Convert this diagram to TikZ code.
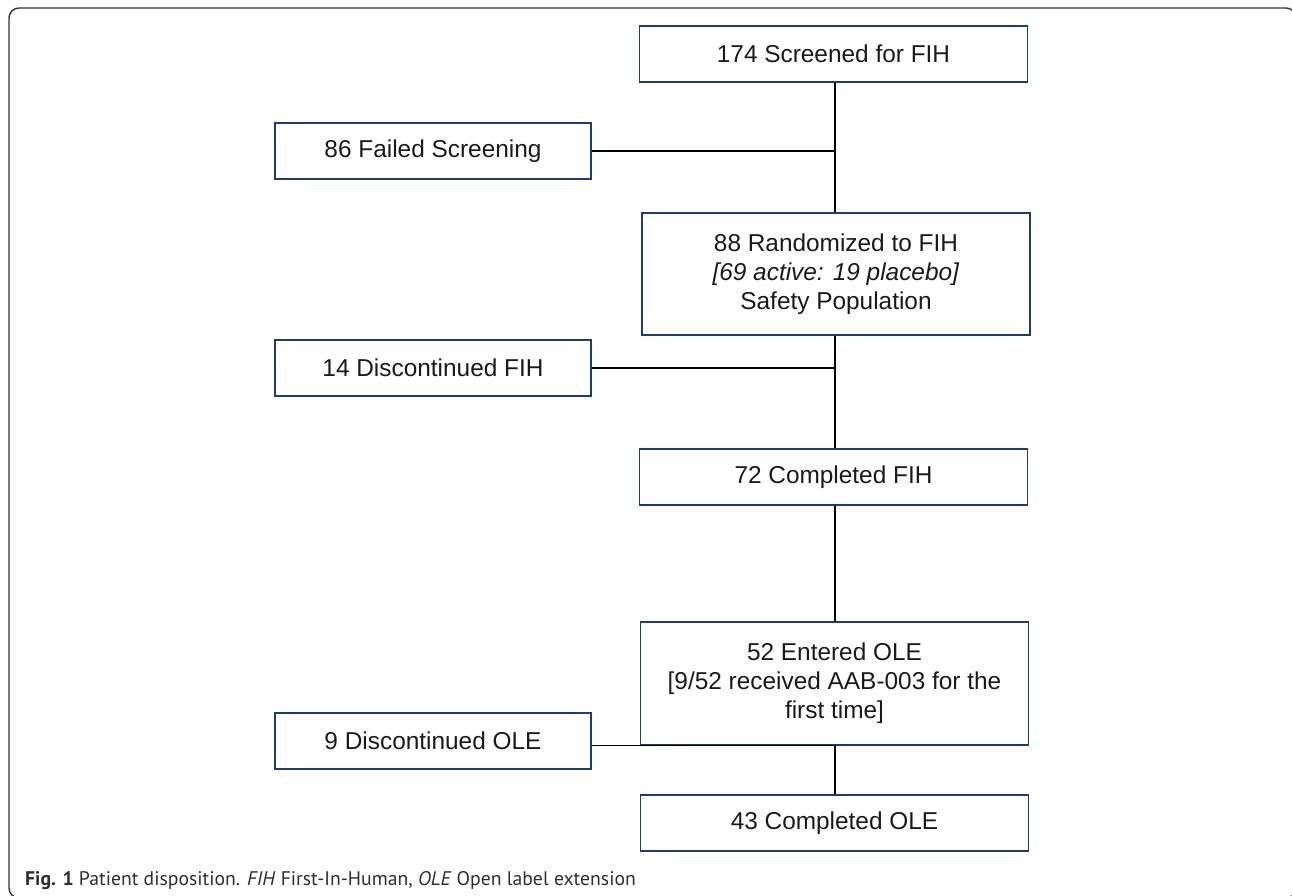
\documentclass[tikz,border=0pt]{standalone}
\usepackage{fontspec}
\setmainfont{Liberation Sans}
\newfontfamily\capfont{PT Sans}
\definecolor{boxblue}{HTML}{1F3A78}
\definecolor{inktext}{HTML}{1A1A1A}
\definecolor{captext}{HTML}{2E2E2E}
\begin{document}
\begin{tikzpicture}[x=1pt,y=-1pt,
  stagebox/.style={draw=boxblue, line width=1.4pt, align=center, inner sep=0pt,
    text=inktext, font=\fontsize{24.4}{29}\selectfont},
  wide/.style={stagebox, minimum width=388pt},
  side/.style={stagebox, minimum width=316pt, minimum height=56pt},
  link/.style={line width=1.4pt, draw=black}]
\useasboundingbox (0,0) rectangle (1292,896);
% outer frame with rounded corners (right and bottom sides run off the page)
\draw[line width=1.4pt, draw=black!80, rounded corners=10pt]
  (9,8) rectangle (1296,898);

% main column
\node[wide, minimum height=56pt]  (s174) at (833.5,54)  {174 Screened for FIH};
\node[wide, minimum height=122pt] (r88)  at (836,274)   {88 Randomized to FIH\\ \textit{[69 active: 19 placebo]}\\ Safety Population};
\node[wide, minimum height=56pt]  (c72)  at (833.5,477) {72 Completed FIH};
\node[wide, minimum height=123pt] (e52)  at (834.5,683.5) {52 Entered OLE\\{}[9/52 received AAB-003 for the\\ first time]};
\node[wide, minimum height=56pt]  (c43)  at (834.5,823) {43 Completed OLE};

% exclusions on the left
\node[side] (f86) at (433,151) {86 Failed Screening};
\node[side] (d14) at (433,368) {14 Discontinued FIH};
\node[side] (d9)  at (433,741) {9 Discontinued OLE};

% vertical spine and branches
\coordinate (spine) at (835,0);
\draw[link] (s174.south -| spine) -- (r88.north -| spine);
\draw[link] (f86.east) -- (f86.east -| spine);
\draw[link] (r88.south -| spine) -- (c72.north -| spine);
\draw[link] (d14.east) -- (d14.east -| spine);
\draw[link] (c72.south -| spine) -- (e52.north -| spine);
\draw[link] (d9.east |- e52.south) -- (e52.south -| spine) -- (c43.north -| spine);

% caption
\node[anchor=base west, inner sep=0pt, text=captext, font=\capfont\fontsize{19.7}{23}\selectfont]
  (cap) at (25,885) {\textbf{Fig. 1} Patient disposition. \textit{FIH} First-In-Human, \textit{OLE} Open label extension};
\end{tikzpicture}
\end{document}
